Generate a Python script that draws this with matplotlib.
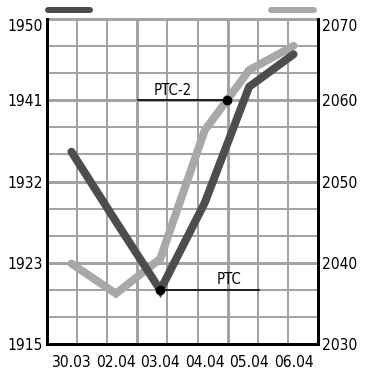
import numpy as np
import matplotlib
matplotlib.use("Agg")
import matplotlib.pyplot as plt
from matplotlib.lines import Line2D
from matplotlib import font_manager

# ---------- data ---------------------------------------------------------
dates = ["30.03", "02.04", "03.04", "04.04", "05.04", "06.04"]
ptc = [1935.7, 1928.2, 1920.8, 1930.2, 1942.7, 1946.2]          # left axis
ptc2 = [2039.9, 2036.2, 2040.5, 2056.3, 2063.7, 2066.7]         # right axis

left_lim = (1915, 1950)
left_labels = ["1915", "1923", "1932", "1941", "1950"]
right_lim = (2030, 2070)
right_labels = ["2030", "2040", "2050", "2060", "2070"]

# annotation leaders (x in date-index units)
ptc2_level = 2060
ptc2_line_start = 1.50
ptc2_text_x, ptc2_text_y = 2.29, 2060.6
ptc_line_end = 4.22
ptc_text_x, ptc_text_y = 3.55, 1921.5

# ---------- style --------------------------------------------------------
dark = "#4d4d4d"
light = "#a8a8a8"
grid_c = "#a3a3a3"
px = 72 / 100  # one pixel in points at dpi=100

names = {f.name for f in font_manager.fontManager.ttflist}
if "Liberation Sans Narrow" in names:
    plt.rcParams["font.family"] = ["Liberation Sans Narrow"]
else:
    plt.rcParams["font.family"] = ["DejaVu Sans"]
    plt.rcParams["font.stretch"] = "condensed"

fig = plt.figure(figsize=(3.68, 3.78), dpi=100, facecolor="white")

# size the font so a date label is ~40 px wide, as in the reference
probe = fig.text(0, 0, "30.03", fontsize=10)
w10 = probe.get_window_extent(fig.canvas.get_renderer()).width
probe.remove()
fsize = min(13.5, 10 * 40 / w10)
plt.rcParams["font.size"] = fsize

ax = fig.add_axes([47 / 368, 34 / 378, 271 / 368, 325 / 378])
ax2 = ax.twinx()
ax.set_zorder(ax2.get_zorder() + 1)
ax.patch.set_visible(False)

x = np.arange(len(dates))
xlim = (-0.55, len(dates) - 1 + 0.55)
ax.set_xlim(*xlim)
ax.set_ylim(*left_lim)
ax2.set_ylim(*right_lim)

# grid: 9 columns, 12 rows, every third line heavier
for i, gx in enumerate(np.linspace(*xlim, 10)[1:-1], start=1):
    ax2.axvline(gx, color=grid_c, lw=(3 if i % 3 == 0 else 2) * px, zorder=1)
for i, gy in enumerate(np.linspace(*right_lim, 13)[:-1]):
    ax2.axhline(gy, color=grid_c, lw=(3 if i % 3 == 0 else 2) * px, zorder=1)
ax2.axhline(right_lim[1], color=grid_c, lw=3 * px, zorder=1, clip_on=False)

# series
ax2.plot(x, ptc2, color=light, lw=8 * px, solid_capstyle="round",
         solid_joinstyle="miter", zorder=3)
ax.plot(x, ptc, color=dark, lw=8 * px, solid_capstyle="round",
        solid_joinstyle="miter", zorder=3)

# annotations
seg = slice(3, 5)
ptc2_x = np.interp(ptc2_level, ptc2[seg], x[seg])
ax2.plot([ptc2_line_start, ptc2_x], [ptc2_level, ptc2_level], color="black",
         lw=1.6 * px, zorder=4)
ax2.plot([ptc2_x], [ptc2_level], "o", color="black", ms=6, zorder=5)
ax2.text(ptc2_text_x, ptc2_text_y, "PTC-2", ha="center", va="baseline",
         fontsize=fsize - 0.5, zorder=5)

imin = int(np.argmin(ptc))
ax.plot([x[imin], ptc_line_end], [ptc[imin], ptc[imin]], color="black",
        lw=1.6 * px, zorder=4)
ax.plot([x[imin]], [ptc[imin]], "o", color="black", ms=6, zorder=5)
ax.text(ptc_text_x, ptc_text_y, "PTC", ha="center", va="baseline",
        fontsize=fsize - 0.5, zorder=5)

# ticks
ax.set_xticks(x)
ax.set_xticklabels(dates)
ax.set_yticks(np.linspace(*left_lim, len(left_labels)))
ax.set_yticklabels(left_labels)
ax2.set_yticks(np.linspace(*right_lim, len(right_labels)))
ax2.set_yticklabels(right_labels)
ax.tick_params(axis="x", length=0, pad=8)
ax.tick_params(axis="y", length=0, pad=3)
ax2.tick_params(axis="y", length=0, pad=3)
ax.get_yticklabels()[-1].set_va("top")
ax2.get_yticklabels()[-1].set_va("top")

# spines
for a in (ax, ax2):
    a.spines["top"].set_visible(False)
ax.spines["right"].set_visible(False)
ax2.spines["left"].set_visible(False)
ax2.spines["bottom"].set_visible(False)
for sp in (ax.spines["left"], ax.spines["bottom"], ax2.spines["right"]):
    sp.set_color("black")
    sp.set_linewidth(3 * px)
    sp.set_zorder(6)

# legend bars above the plot
fig.add_artist(Line2D([48 / 368, 90 / 368], [1 - 10 / 378] * 2, color=dark,
                      lw=6 * px, solid_capstyle="round"))
fig.add_artist(Line2D([271 / 368, 314 / 368], [1 - 10 / 378] * 2, color=light,
                      lw=6 * px, solid_capstyle="round"))

fig.savefig("out.png", dpi=100, facecolor="white")
